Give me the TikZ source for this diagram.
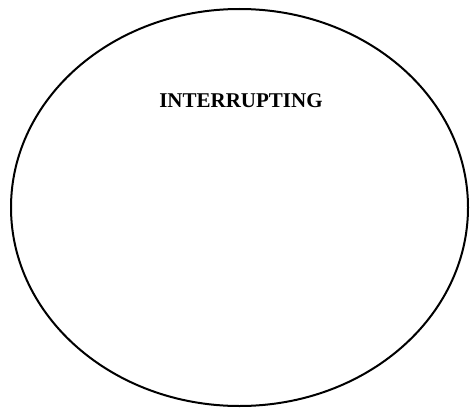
\documentclass[tikz,border=0pt]{standalone}
\usepackage{fontspec}
\setmainfont{Liberation Serif}
\usetikzlibrary{shapes.geometric,positioning}

\begin{document}
\begin{tikzpicture}[x=1pt,y=1pt]
  \useasboundingbox (0,0) rectangle (470,408);
  \node[ellipse, draw, line width=2pt, minimum width=457pt, minimum height=397pt, inner sep=0pt] (circ1) at (239.5,200.5) {};
  \node[font=\bfseries\fontsize{21}{25}\selectfont, inner sep=0pt] (label1) at (241,307.5) {INTERRUPTING};
\end{tikzpicture}
\end{document}
